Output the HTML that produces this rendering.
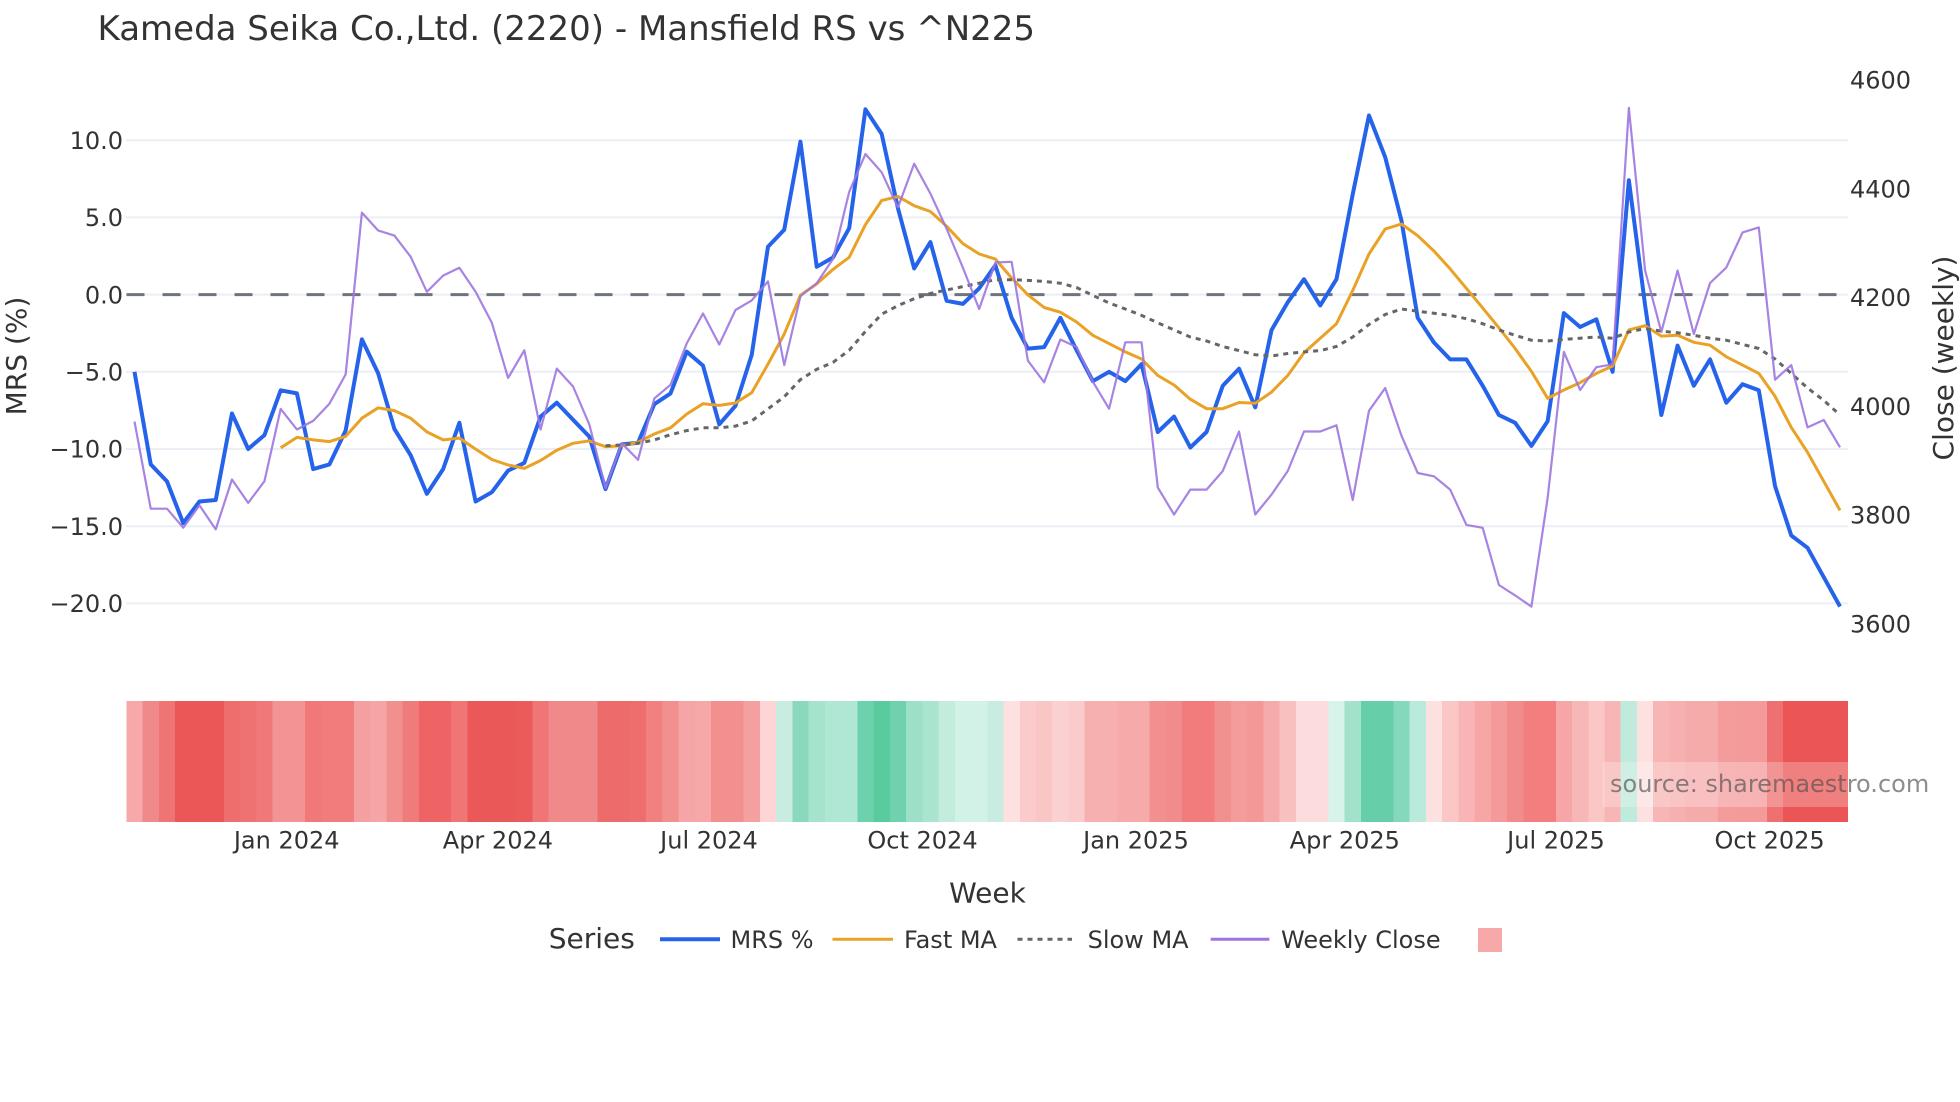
<!DOCTYPE html>
<html><head><meta charset="utf-8"><style>
html,body{margin:0;padding:0;background:#fff;}
body{width:1960px;height:1102px;overflow:hidden;}
svg{display:block;font-family:"DejaVu Sans","Liberation Sans",sans-serif;}
</style></head><body>
<svg width="1960" height="1102" viewBox="0 0 1960 1102" xmlns="http://www.w3.org/2000/svg">
<rect width="1960" height="1102" fill="#fff"/>
<text x="97.5" y="40" font-size="34" fill="#333">Kameda Seika Co.,Ltd. (2220) - Mansfield RS vs ^N225</text>
<g stroke="#ebeff5" stroke-width="2">
<line x1="126" y1="140.2" x2="1848" y2="140.2"/><line x1="126" y1="217.4" x2="1848" y2="217.4"/><line x1="126" y1="294.6" x2="1848" y2="294.6"/><line x1="126" y1="371.8" x2="1848" y2="371.8"/><line x1="126" y1="449" x2="1848" y2="449"/><line x1="126" y1="526.2" x2="1848" y2="526.2"/><line x1="126" y1="603.4" x2="1848" y2="603.4"/>
</g>
<line x1="126.5" y1="294.6" x2="1848" y2="294.6" stroke="#6e737c" stroke-width="3" stroke-dasharray="18,18"/>
<g font-size="24" fill="#333" text-anchor="end">
<text x="123" y="148.9">10.0</text><text x="123" y="226.1">5.0</text><text x="123" y="303.3">0.0</text><text x="123" y="380.5">−5.0</text><text x="123" y="457.7">−10.0</text><text x="123" y="534.9">−15.0</text><text x="123" y="612.1">−20.0</text>
</g>
<g font-size="24" fill="#333">
<text x="1850" y="88.7">4600</text><text x="1850" y="197.4">4400</text><text x="1850" y="306.2">4200</text><text x="1850" y="414.9">4000</text><text x="1850" y="523.7">3800</text><text x="1850" y="632.4">3600</text>
</g>
<text transform="translate(26,356) rotate(-90)" text-anchor="middle" font-size="28" fill="#333">MRS (%)</text>
<text transform="translate(1953,358) rotate(-90)" text-anchor="middle" font-size="28" fill="#333">Close (weekly)</text>
<polyline fill="none" stroke="#2563eb" stroke-width="4" stroke-linejoin="round" points="134.5,371.8 150.74,464.4 166.99,481.4 183.23,523.1 199.47,501.5 215.72,500 231.96,413.5 248.2,449 264.44,435.1 280.69,390.3 296.93,393.4 313.17,469.1 329.42,464.4 345.66,430.5 361.9,339.4 378.15,373.3 394.39,428.9 410.63,455.2 426.87,493.8 443.12,469.1 459.36,422.8 475.6,501.5 491.85,492.2 508.09,470.6 524.33,462.9 540.58,416.6 556.82,402.7 573.06,419.7 589.3,436.6 605.55,489.1 621.79,444.4 638.03,442.8 654.28,404.2 670.52,393.4 686.76,351.7 703.01,365.6 719.25,424.3 735.49,405.8 751.73,354.8 767.98,246.7 784.22,229.8 800.46,141.7 816.71,266.8 832.95,257.5 849.19,228.2 865.44,109.3 881.68,134 897.92,208.1 914.16,268.4 930.41,242.1 946.65,300.8 962.89,303.9 979.14,288.4 995.38,265.3 1011.62,317.8 1027.87,348.6 1044.11,347.1 1060.35,317.8 1076.59,350.2 1092.84,381.1 1109.08,371.8 1125.32,381.1 1141.57,364.1 1157.81,432 1174.05,416.6 1190.3,447.5 1206.54,432 1222.78,385.7 1239.02,368.7 1255.27,407.3 1271.51,330.1 1287.75,302.3 1304,279.2 1320.24,305.4 1336.48,279.2 1352.73,194.2 1368.97,115.5 1385.21,157.2 1401.45,220.5 1417.7,317.8 1433.94,342.5 1450.18,359.4 1466.43,359.4 1482.67,385.7 1498.91,415 1515.16,422.8 1531.4,445.9 1547.64,421.2 1563.88,313.1 1580.13,327 1596.37,319.3 1612.61,371.8 1628.86,180.3 1645.1,305.4 1661.34,415 1677.59,345.6 1693.83,385.7 1710.07,359.4 1726.31,402.7 1742.56,384.2 1758.8,390.3 1775.04,486.1 1791.29,535.5 1807.53,547.8 1823.77,577.2 1840.02,606.5"/>
<polyline fill="none" stroke="#e9a126" stroke-width="3" stroke-linejoin="round" points="280.69,447.8 296.93,437.4 313.17,439.9 329.42,441.6 345.66,436.4 361.9,418.2 378.15,407.8 394.39,410.6 410.63,418.2 426.87,431.9 443.12,439.9 459.36,438.1 475.6,449.1 491.85,459.5 508.09,465 524.33,468.4 540.58,460.5 556.82,450.2 573.06,443.3 589.3,440.9 605.55,446.7 621.79,445.7 638.03,442.3 654.28,434 670.52,427.8 686.76,414 703.01,403.7 719.25,405.4 735.49,403 751.73,392.7 767.98,364.1 784.22,334.1 800.46,295.2 816.71,283.9 832.95,269.4 849.19,257.3 865.44,224.6 881.68,200.5 897.92,196.4 914.16,205.7 930.41,211.5 946.65,226.3 962.89,243.6 979.14,253.9 995.38,259.1 1011.62,278 1027.87,294.8 1044.11,307.5 1060.35,312.2 1076.59,322 1092.84,335.3 1109.08,343.6 1125.32,351.9 1141.57,359 1157.81,375.5 1174.05,385 1190.3,399.2 1206.54,408.7 1222.78,408.7 1239.02,402.5 1255.27,403.3 1271.51,392.1 1287.75,375.5 1304,352.7 1320.24,338.2 1336.48,323.7 1352.73,290.5 1368.97,254 1385.21,229 1401.45,224 1417.7,235.7 1433.94,251 1450.18,268.9 1466.43,288.4 1482.67,307.9 1498.91,327.8 1515.16,348.5 1531.4,371.4 1547.64,398.3 1563.88,390 1580.13,382.6 1596.37,373.4 1612.61,366 1628.86,329.9 1645.1,325.7 1661.34,336.1 1677.59,335.3 1693.83,342.3 1710.07,345.2 1726.31,356.8 1742.56,365.1 1758.8,373.4 1775.04,396.3 1791.29,427.4 1807.53,452.3 1823.77,481.3 1840.02,510.4"/>
<polyline fill="none" stroke="#666" stroke-width="3" stroke-dasharray="5,5" points="605.55,445.7 621.79,445 638.03,443.3 654.28,439.9 670.52,434.7 686.76,430.6 703.01,427.8 719.25,427.8 735.49,426.1 751.73,420.9 767.98,408.9 784.22,396.8 800.46,379.6 816.71,369.3 832.95,362.4 849.19,350.3 865.44,331.4 881.68,314.2 897.92,305.6 914.16,298.7 930.41,293.5 946.65,290 962.89,286.6 979.14,283.2 995.38,279.7 1011.62,279.7 1027.87,280.4 1044.11,281.4 1060.35,283.2 1076.59,287.5 1092.84,295.4 1109.08,303 1125.32,309 1141.57,315.4 1157.81,322.8 1174.05,329.9 1190.3,337 1206.54,341 1222.78,346.5 1239.02,350.6 1255.27,354.8 1271.51,356 1287.75,353.5 1304,351.9 1320.24,350.6 1336.48,346.5 1352.73,337 1368.97,324.5 1385.21,314.5 1401.45,309 1417.7,311.2 1433.94,313.3 1450.18,315.4 1466.43,318.7 1482.67,323.7 1498.91,329.9 1515.16,335.3 1531.4,340.2 1547.64,341 1563.88,339.4 1580.13,338.2 1596.37,337 1612.61,338.2 1628.86,332 1645.1,328.6 1661.34,331.1 1677.59,332.8 1693.83,335.3 1710.07,338.2 1726.31,340.2 1742.56,344.4 1758.8,348.5 1775.04,359 1791.29,373.4 1807.53,388 1823.77,400.4 1840.02,415"/>
<polyline fill="none" stroke="#9d75e0" stroke-opacity="0.9" stroke-width="2.2" stroke-linejoin="round" points="134.5,421.6 150.74,508.7 166.99,508.7 183.23,527.7 199.47,505.3 215.72,529.4 231.96,479.5 248.2,502.9 264.44,481.2 280.69,408.9 296.93,429.5 313.17,420.9 329.42,403.7 345.66,374.4 361.9,212.6 378.15,230.5 394.39,235.6 410.63,256.7 426.87,291.8 443.12,275.6 459.36,267.7 475.6,291.8 491.85,322.8 508.09,377.9 524.33,350.3 540.58,429.5 556.82,368.6 573.06,386.5 589.3,424.4 605.55,488.1 621.79,443.3 638.03,459.8 654.28,398.5 670.52,384.8 686.76,343.4 703.01,313.5 719.25,344.5 735.49,310 751.73,300.4 767.98,281.4 784.22,365.1 800.46,296.3 816.71,283.2 832.95,259 849.19,191.9 865.44,154 881.68,172.3 897.92,207.4 914.16,163.7 930.41,193.6 946.65,228.8 962.89,267.7 979.14,309 995.38,262.5 1011.62,261.8 1027.87,360.6 1044.11,382.3 1060.35,339.5 1076.59,347 1092.84,381.7 1109.08,408.7 1125.32,342.3 1141.57,342.3 1157.81,487.6 1174.05,514.5 1190.3,489.6 1206.54,489.6 1222.78,471 1239.02,431.5 1255.27,514.5 1271.51,494.6 1287.75,471 1304,431.5 1320.24,431.5 1336.48,425.3 1352.73,500 1368.97,410.8 1385.21,388 1401.45,435.7 1417.7,473 1433.94,476.3 1450.18,489.6 1466.43,524.9 1482.67,527.8 1498.91,585 1515.16,595.4 1531.4,606.6 1547.64,497.9 1563.88,351.9 1580.13,390 1596.37,367.2 1612.61,364.3 1628.86,107.9 1645.1,270.5 1661.34,332 1677.59,270.5 1693.83,334 1710.07,283 1726.31,267.6 1742.56,232.4 1758.8,227.4 1775.04,379.7 1791.29,365.1 1807.53,427.4 1823.77,420 1840.02,447.3"/>
<g shape-rendering="crispEdges">
<rect x="126.38" y="701" width="16.7" height="121" fill="#f7a8a8"/>
<rect x="142.62" y="701" width="16.7" height="121" fill="#f08a8a"/>
<rect x="158.87" y="701" width="16.7" height="121" fill="#ef7474"/>
<rect x="175.11" y="701" width="16.7" height="121" fill="#eb5757"/>
<rect x="191.35" y="701" width="16.7" height="121" fill="#eb5757"/>
<rect x="207.6" y="701" width="16.7" height="121" fill="#eb5757"/>
<rect x="223.84" y="701" width="16.7" height="121" fill="#ee6e6e"/>
<rect x="240.08" y="701" width="16.7" height="121" fill="#ef7272"/>
<rect x="256.32" y="701" width="16.7" height="121" fill="#f07878"/>
<rect x="272.57" y="701" width="16.7" height="121" fill="#f39393"/>
<rect x="288.81" y="701" width="16.7" height="121" fill="#f39393"/>
<rect x="305.05" y="701" width="16.7" height="121" fill="#f07878"/>
<rect x="321.3" y="701" width="16.7" height="121" fill="#f07c7c"/>
<rect x="337.54" y="701" width="16.7" height="121" fill="#f07c7c"/>
<rect x="353.78" y="701" width="16.7" height="121" fill="#f4a0a0"/>
<rect x="370.03" y="701" width="16.7" height="121" fill="#f5a5a5"/>
<rect x="386.27" y="701" width="16.7" height="121" fill="#f29090"/>
<rect x="402.51" y="701" width="16.7" height="121" fill="#f07b7b"/>
<rect x="418.75" y="701" width="16.7" height="121" fill="#ee6363"/>
<rect x="435" y="701" width="16.7" height="121" fill="#ee6363"/>
<rect x="451.24" y="701" width="16.7" height="121" fill="#f07575"/>
<rect x="467.48" y="701" width="16.7" height="121" fill="#eb5858"/>
<rect x="483.73" y="701" width="16.7" height="121" fill="#eb5858"/>
<rect x="499.97" y="701" width="16.7" height="121" fill="#eb5858"/>
<rect x="516.21" y="701" width="16.7" height="121" fill="#ec5b5b"/>
<rect x="532.46" y="701" width="16.7" height="121" fill="#f07676"/>
<rect x="548.7" y="701" width="16.7" height="121" fill="#f08a8a"/>
<rect x="564.94" y="701" width="16.7" height="121" fill="#f08a8a"/>
<rect x="581.18" y="701" width="16.7" height="121" fill="#f08a8a"/>
<rect x="597.43" y="701" width="16.7" height="121" fill="#ee6b6b"/>
<rect x="613.67" y="701" width="16.7" height="121" fill="#ee6b6b"/>
<rect x="629.91" y="701" width="16.7" height="121" fill="#ee6e6e"/>
<rect x="646.16" y="701" width="16.7" height="121" fill="#f28080"/>
<rect x="662.4" y="701" width="16.7" height="121" fill="#f29090"/>
<rect x="678.64" y="701" width="16.7" height="121" fill="#f5a5a5"/>
<rect x="694.89" y="701" width="16.7" height="121" fill="#f6a8a8"/>
<rect x="711.13" y="701" width="16.7" height="121" fill="#f29090"/>
<rect x="727.37" y="701" width="16.7" height="121" fill="#f29090"/>
<rect x="743.61" y="701" width="16.7" height="121" fill="#f4a0a0"/>
<rect x="759.86" y="701" width="16.7" height="121" fill="#fdd5d5"/>
<rect x="776.1" y="701" width="16.7" height="121" fill="#c8ecdf"/>
<rect x="792.34" y="701" width="16.7" height="121" fill="#8ad9bd"/>
<rect x="808.59" y="701" width="16.7" height="121" fill="#a5e3cc"/>
<rect x="824.83" y="701" width="16.7" height="121" fill="#b0e7d4"/>
<rect x="841.07" y="701" width="16.7" height="121" fill="#b0e7d4"/>
<rect x="857.32" y="701" width="16.7" height="121" fill="#6dd1ae"/>
<rect x="873.56" y="701" width="16.7" height="121" fill="#5acb9f"/>
<rect x="889.8" y="701" width="16.7" height="121" fill="#6fd1ae"/>
<rect x="906.04" y="701" width="16.7" height="121" fill="#9ce0c7"/>
<rect x="922.29" y="701" width="16.7" height="121" fill="#a9e4ce"/>
<rect x="938.53" y="701" width="16.7" height="121" fill="#c3ecdd"/>
<rect x="954.77" y="701" width="16.7" height="121" fill="#d2f1e7"/>
<rect x="971.02" y="701" width="16.7" height="121" fill="#d2f1e7"/>
<rect x="987.26" y="701" width="16.7" height="121" fill="#c8ecdf"/>
<rect x="1003.5" y="701" width="16.7" height="121" fill="#fde0e0"/>
<rect x="1019.75" y="701" width="16.7" height="121" fill="#fbcaca"/>
<rect x="1035.99" y="701" width="16.7" height="121" fill="#fac5c5"/>
<rect x="1052.23" y="701" width="16.7" height="121" fill="#fbd0d0"/>
<rect x="1068.47" y="701" width="16.7" height="121" fill="#fbcaca"/>
<rect x="1084.72" y="701" width="16.7" height="121" fill="#f7b0b0"/>
<rect x="1100.96" y="701" width="16.7" height="121" fill="#f7b0b0"/>
<rect x="1117.2" y="701" width="16.7" height="121" fill="#f6aaaa"/>
<rect x="1133.45" y="701" width="16.7" height="121" fill="#f6aaaa"/>
<rect x="1149.69" y="701" width="16.7" height="121" fill="#f29090"/>
<rect x="1165.93" y="701" width="16.7" height="121" fill="#f28c8c"/>
<rect x="1182.18" y="701" width="16.7" height="121" fill="#f27b7b"/>
<rect x="1198.42" y="701" width="16.7" height="121" fill="#f27b7b"/>
<rect x="1214.66" y="701" width="16.7" height="121" fill="#f29090"/>
<rect x="1230.9" y="701" width="16.7" height="121" fill="#f49c9c"/>
<rect x="1247.15" y="701" width="16.7" height="121" fill="#f39797"/>
<rect x="1263.39" y="701" width="16.7" height="121" fill="#f6abab"/>
<rect x="1279.63" y="701" width="16.7" height="121" fill="#f9c0c0"/>
<rect x="1295.88" y="701" width="16.7" height="121" fill="#fcdcdc"/>
<rect x="1312.12" y="701" width="16.7" height="121" fill="#fcdcdc"/>
<rect x="1328.36" y="701" width="16.7" height="121" fill="#d8f3ea"/>
<rect x="1344.61" y="701" width="16.7" height="121" fill="#a2e2cb"/>
<rect x="1360.85" y="701" width="16.7" height="121" fill="#66cfaa"/>
<rect x="1377.09" y="701" width="16.7" height="121" fill="#66cfaa"/>
<rect x="1393.33" y="701" width="16.7" height="121" fill="#85d8bb"/>
<rect x="1409.58" y="701" width="16.7" height="121" fill="#b9eadb"/>
<rect x="1425.82" y="701" width="16.7" height="121" fill="#fde0e0"/>
<rect x="1442.06" y="701" width="16.7" height="121" fill="#fbc6c6"/>
<rect x="1458.31" y="701" width="16.7" height="121" fill="#f9b5b5"/>
<rect x="1474.55" y="701" width="16.7" height="121" fill="#f7a6a6"/>
<rect x="1490.79" y="701" width="16.7" height="121" fill="#f49a9a"/>
<rect x="1507.04" y="701" width="16.7" height="121" fill="#f28c8c"/>
<rect x="1523.28" y="701" width="16.7" height="121" fill="#f27e7e"/>
<rect x="1539.52" y="701" width="16.7" height="121" fill="#f27e7e"/>
<rect x="1555.76" y="701" width="16.7" height="121" fill="#f6a6a6"/>
<rect x="1572.01" y="701" width="16.7" height="121" fill="#f8b7b7"/>
<rect x="1588.25" y="701" width="16.7" height="121" fill="#fbc6c6"/>
<rect x="1604.49" y="701" width="16.7" height="121" fill="#f8b5b5"/>
<rect x="1620.74" y="701" width="16.7" height="121" fill="#c0eadb"/>
<rect x="1636.98" y="701" width="16.7" height="121" fill="#fde0e0"/>
<rect x="1653.22" y="701" width="16.7" height="121" fill="#f8b5b5"/>
<rect x="1669.47" y="701" width="16.7" height="121" fill="#f7b0b0"/>
<rect x="1685.71" y="701" width="16.7" height="121" fill="#f6abab"/>
<rect x="1701.95" y="701" width="16.7" height="121" fill="#f6abab"/>
<rect x="1718.19" y="701" width="16.7" height="121" fill="#f49c9c"/>
<rect x="1734.44" y="701" width="16.7" height="121" fill="#f39b9b"/>
<rect x="1750.68" y="701" width="16.7" height="121" fill="#f49a9a"/>
<rect x="1766.92" y="701" width="16.7" height="121" fill="#ef7070"/>
<rect x="1783.17" y="701" width="16.7" height="121" fill="#eb5555"/>
<rect x="1799.41" y="701" width="16.7" height="121" fill="#eb5555"/>
<rect x="1815.65" y="701" width="16.7" height="121" fill="#eb5555"/>
<rect x="1831.9" y="701" width="16.25" height="121" fill="#eb5555"/>
</g>
<rect x="1603" y="762" width="330" height="45" fill="#fff" fill-opacity="0.25"/>
<text x="1610" y="792" font-size="24" fill="#505050" fill-opacity="0.65">source: sharemaestro.com</text>
<g font-size="24" fill="#333" text-anchor="middle">
<text x="286.7" y="848.3">Jan 2024</text><text x="497.9" y="848.3">Apr 2024</text><text x="709" y="848.3">Jul 2024</text><text x="922.5" y="848.3">Oct 2024</text><text x="1136" y="848.3">Jan 2025</text><text x="1344.8" y="848.3">Apr 2025</text><text x="1556" y="848.3">Jul 2025</text><text x="1769.6" y="848.3">Oct 2025</text>
</g>
<text x="987.5" y="902.7" font-size="28" fill="#333" text-anchor="middle">Week</text>
<text x="548.7" y="948" font-size="28" fill="#333">Series</text>
<line x1="660" y1="939.3" x2="720" y2="939.3" stroke="#2563eb" stroke-width="4"/>
<text x="730.5" y="948" font-size="24" fill="#333">MRS %</text>
<line x1="832.5" y1="939.3" x2="893" y2="939.3" stroke="#e9a126" stroke-width="3"/>
<text x="904" y="948" font-size="24" fill="#333">Fast MA</text>
<line x1="1017.5" y1="939.3" x2="1072" y2="939.3" stroke="#666" stroke-width="3" stroke-dasharray="5,5"/>
<text x="1087.6" y="948" font-size="24" fill="#333">Slow MA</text>
<line x1="1210.7" y1="939.3" x2="1269.4" y2="939.3" stroke="#9d75e0" stroke-width="3"/>
<text x="1281" y="948" font-size="24" fill="#333">Weekly Close</text>
<rect x="1478" y="928" width="24" height="24" fill="#f7a8a8"/>
</svg>
</body></html>
